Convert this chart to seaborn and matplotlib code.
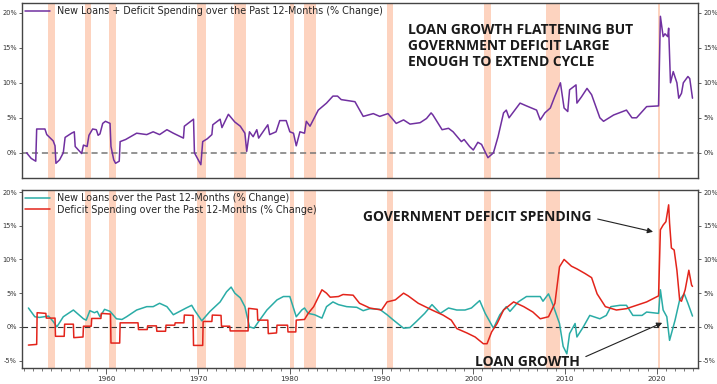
import matplotlib
matplotlib.use("Agg")
from matplotlib import pyplot as plt
from matplotlib.ticker import MultipleLocator, FuncFormatter
import seaborn as sns
import pandas as pd

# recession bands (start, end)
recessions = [(1953.6, 1954.4), (1957.7, 1958.3), (1960.3, 1961.1), (1969.9, 1970.9),
              (1973.9, 1975.2), (1980.0, 1980.5), (1981.5, 1982.9), (1990.6, 1991.2),
              (2001.2, 2001.9), (2007.9, 2009.5), (2020.1, 2020.4)]

# top panel: new loans + deficit spending
total_years = [1951.3, 1951.8, 1952.3, 1952.4, 1953.3, 1953.5, 1954.2, 1954.4, 1954.5, 1954.9,
               1955.3, 1955.5, 1956.2, 1956.5, 1956.6, 1957.3, 1957.5, 1957.9, 1958.1, 1958.5,
               1958.9, 1959.1, 1959.3, 1959.6, 1959.9, 1960.4, 1960.5, 1960.8, 1961.0, 1961.4,
               1961.5, 1962.1, 1963.3, 1964.4, 1965.1, 1965.8, 1966.6, 1967.3, 1968.4, 1968.5,
               1969.0, 1969.5, 1969.6, 1970.3, 1970.5, 1971.0, 1971.5, 1971.6, 1972.4, 1972.6,
               1973.3, 1974.0, 1974.6, 1975.1, 1975.3, 1975.6, 1976.0, 1976.4, 1976.6, 1977.6,
               1977.8, 1978.5, 1978.9, 1979.6, 1980.0, 1980.4, 1980.7, 1981.1, 1981.6, 1981.8,
               1982.2, 1983.1, 1984.0, 1984.7, 1985.2, 1985.6, 1987.1, 1988.0, 1989.1, 1989.8,
               1990.7, 1991.6, 1992.4, 1993.1, 1994.2, 1994.9, 1995.4, 1995.6, 1996.6, 1997.3,
               1997.8, 1998.7, 1999.0, 1999.6, 2000.0, 2000.5, 2000.9, 2001.6, 2002.2, 2002.7,
               2003.3, 2003.6, 2003.9, 2004.7, 2005.1, 2005.8, 2006.9, 2007.3, 2007.8, 2008.4,
               2008.9, 2009.5, 2009.9, 2010.3, 2010.5, 2011.2, 2011.3, 2011.8, 2012.4, 2012.9,
               2013.8, 2014.2, 2015.3, 2016.7, 2017.3, 2017.8, 2018.9, 2020.2, 2020.4, 2020.7,
               2020.9, 2021.2, 2021.3, 2021.5, 2021.8, 2022.2, 2022.4, 2022.7, 2022.9, 2023.4,
               2023.6, 2023.9]
total_values = [0.0, -0.8, -1.2, 3.4, 3.4, 2.6, 1.7, 1.0, -1.5, -1.0,
                0.0, 2.2, 2.8, 3.0, 0.9, -0.1, 1.1, 0.9, 2.5, 3.4,
                3.3, 2.5, 2.7, 4.2, 4.5, 4.2, 0.9, -1.0, -1.5, -1.2,
                1.6, 1.9, 2.8, 2.6, 3.0, 2.6, 3.3, 2.8, 2.1, 3.8,
                4.3, 4.8, 0.0, -1.7, 1.6, 2.0, 2.6, 4.0, 4.8, 3.6,
                5.5, 4.4, 3.8, 2.8, 0.2, 3.0, 2.3, 3.3, 2.1, 4.0,
                2.6, 3.0, 4.6, 4.6, 3.0, 2.8, 1.0, 3.0, 2.8, 4.5,
                3.8, 6.1, 7.1, 8.1, 8.1, 7.6, 7.3, 5.2, 5.6, 5.2,
                5.6, 4.2, 4.7, 4.1, 4.3, 4.9, 5.7, 5.4, 3.3, 3.5,
                3.0, 1.6, 1.9, 0.9, 0.4, 1.5, 1.2, -0.7, 0.0, 2.3,
                5.7, 6.1, 5.0, 6.4, 7.1, 6.7, 6.1, 4.7, 5.7, 6.4,
                8.1, 10.0, 6.4, 5.9, 9.0, 9.7, 7.1, 8.0, 9.2, 8.3,
                5.0, 4.5, 5.4, 6.1, 5.0, 5.0, 6.6, 6.7, 19.5, 16.6,
                17.0, 16.6, 17.8, 10.0, 11.6, 10.0, 7.8, 8.5, 10.0, 10.9,
                10.6, 7.8]

# bottom panel: new loans
loan_years = [1951.5, 1952.2, 1952.7, 1953.7, 1954.2, 1954.6, 1955.3, 1956.4, 1957.5, 1957.8,
              1958.2, 1958.7, 1959.0, 1959.3, 1959.8, 1960.4, 1961.1, 1961.7, 1962.2, 1963.3,
              1964.4, 1965.1, 1965.8, 1966.6, 1967.3, 1968.0, 1968.7, 1969.3, 1969.6, 1970.4,
              1971.3, 1972.4, 1973.1, 1973.6, 1974.0, 1974.6, 1975.1, 1975.6, 1976.1, 1976.6,
              1977.5, 1978.6, 1979.3, 1980.0, 1980.7, 1981.3, 1981.6, 1982.0, 1982.7, 1983.5,
              1984.0, 1984.7, 1985.3, 1986.2, 1987.3, 1988.0, 1988.7, 1989.8, 1990.6, 1991.3,
              1992.4, 1993.1, 1993.8, 1994.7, 1995.5, 1996.4, 1997.3, 1998.2, 1999.1, 1999.8,
              2000.7, 2001.3, 2002.2, 2002.9, 2003.6, 2004.0, 2004.9, 2005.8, 2006.9, 2007.3,
              2007.6, 2008.2, 2008.7, 2009.4, 2009.8, 2010.2, 2010.5, 2011.1, 2011.3, 2012.0,
              2012.7, 2013.8, 2014.5, 2015.0, 2016.0, 2016.7, 2017.4, 2018.4, 2018.9, 2020.2,
              2020.4, 2020.7, 2021.1, 2021.4, 2022.0, 2022.5, 2023.0, 2023.4, 2023.9]
loan_values = [2.8, 1.5, 1.4, 1.6, 0.8, 0.0, 1.5, 2.5, 1.2, 1.0,
               2.4, 2.1, 2.3, 1.5, 2.6, 2.3, 1.2, 1.1, 1.5, 2.5,
               3.0, 3.0, 3.5, 3.0, 1.8, 2.3, 2.8, 3.2, 2.5, 0.9,
               2.3, 3.7, 5.2, 5.9, 5.0, 4.3, 3.0, 0.0, -0.2, 0.8,
               2.5, 4.0, 4.5, 4.5, 1.5, 2.5, 2.8, 2.0, 1.8, 1.3,
               3.0, 3.7, 3.3, 3.0, 2.9, 2.4, 2.7, 2.6, 1.8, 1.0,
               -0.2, -0.1, 0.8, 2.0, 3.3, 2.0, 2.8, 2.5, 2.5, 2.8,
               3.9, 2.0, -0.2, 1.8, 3.0, 2.3, 3.7, 4.5, 4.5, 4.5,
               3.8, 4.9, 3.2, 0.5, -2.9, -4.0, -1.0, 0.5, -1.5, 0.0,
               1.7, 1.2, 1.7, 3.0, 3.2, 3.2, 1.7, 1.7, 2.2, 2.0,
               5.5, 2.5, 1.5, -2.0, 1.0, 4.0, 4.9, 3.5, 1.6]

# bottom panel: deficit spending
deficit_years = [1951.5, 1952.4, 1952.45, 1953.4, 1953.45, 1954.4, 1954.45, 1955.4, 1955.45, 1956.4,
                 1956.45, 1957.45, 1957.5, 1958.35, 1958.4, 1959.4, 1959.45, 1960.45, 1960.5, 1961.45,
                 1961.5, 1963.45, 1963.5, 1964.45, 1964.5, 1965.45, 1965.5, 1966.45, 1966.5, 1967.45,
                 1967.5, 1968.45, 1968.5, 1969.45, 1969.5, 1970.5, 1970.55, 1971.5, 1971.55, 1972.5,
                 1972.55, 1973.45, 1973.5, 1975.45, 1975.5, 1976.45, 1976.5, 1977.6, 1977.65, 1978.55,
                 1978.6, 1979.75, 1979.8, 1980.65, 1980.7, 1981.6, 1982.0, 1982.6, 1983.5, 1984.0,
                 1984.4, 1985.3, 1985.8, 1986.9, 1987.6, 1988.4, 1988.7, 1990.0, 1990.6, 1991.5,
                 1992.4, 1992.9, 1994.0, 1995.5, 1996.7, 1997.6, 1998.2, 1999.3, 2000.2, 2001.1,
                 2001.5, 2002.0, 2002.6, 2003.3, 2004.4, 2005.5, 2006.5, 2007.3, 2008.2, 2008.9,
                 2009.4, 2009.9, 2010.7, 2011.3, 2012.2, 2012.9, 2013.5, 2014.4, 2015.6, 2016.7,
                 2017.8, 2018.9, 2020.2, 2020.4, 2020.7, 2021.0, 2021.3, 2021.4, 2021.6, 2021.9,
                 2022.2, 2022.5, 2022.7, 2023.1, 2023.5, 2023.8, 2023.9]
deficit_values = [-2.7, -2.6, 2.1, 2.0, 1.3, 1.3, -1.4, -1.4, 0.4, 0.4,
                  -1.6, -1.5, 0.1, 0.1, 1.25, 1.25, 2.0, 1.9, -2.4, -2.4,
                  0.6, 0.6, -0.4, -0.4, 0.15, 0.15, -0.65, -0.65, 0.25, 0.25,
                  0.6, 0.6, 1.75, 1.7, -2.75, -2.75, 0.8, 0.8, 1.75, 1.7,
                  0.1, 0.1, -0.6, -0.6, 2.75, 2.6, 1.0, 1.0, -1.0, -0.9,
                  0.25, 0.25, -0.75, -0.75, 1.0, 1.1, 2.0, 3.0, 5.5, 5.0,
                  4.4, 4.5, 4.8, 4.7, 3.5, 3.0, 2.8, 2.5, 3.7, 4.0,
                  5.0, 4.6, 3.5, 2.5, 1.75, 1.0, -0.25, -0.9, -1.5, -2.5,
                  -2.5, -0.75, 0.5, 2.5, 3.7, 3.0, 2.2, 1.2, 1.5, 3.5,
                  8.9, 10.0, 9.0, 8.6, 7.9, 7.3, 4.9, 3.0, 2.5, 2.7,
                  3.2, 3.7, 4.6, 14.4, 15.1, 15.6, 18.1, 15.4, 11.7, 11.4,
                  8.4, 4.0, 3.8, 5.5, 8.4, 6.2, 6.0]

total = pd.DataFrame({"year": total_years, "value": total_values})
loans = pd.DataFrame({"year": loan_years, "value": loan_values})
deficit = pd.DataFrame({"year": deficit_years, "value": deficit_values})

sns.set_style("ticks")
plt.rcParams["font.family"] = ["DejaVu Sans"]

PURPLE = "#7030a0"
TEAL = "#2aaca6"
RED = "#e3241b"
SHADE = "#fdd3bf"
SPINE = "#444444"

fig = plt.figure(figsize=(7.17, 3.84), dpi=100)
ax1 = fig.add_axes([22 / 717, 1 - 178 / 384, 676 / 717, 175 / 384])
ax2 = fig.add_axes([22 / 717, 1 - 368 / 384, 676 / 717, 178 / 384])

pct = FuncFormatter(lambda v, p: f"{v:.0f}%")

for ax in (ax1, ax2):
    for a, b in recessions:
        ax.axvspan(a, b, color=SHADE, lw=0, zorder=0)
    ax.set_xlim(1950.8, 2024.5)
    ax.yaxis.set_major_formatter(pct)
    ax.yaxis.set_major_locator(MultipleLocator(5))
    ax.tick_params(axis="y", left=True, right=True, labelleft=True, labelright=True,
                   labelsize=4.8, labelcolor="#333333", length=2.5, width=0.6,
                   color=SPINE, pad=1.2)
    for s in ax.spines.values():
        s.set_color(SPINE)
        s.set_linewidth(1.0)

# top panel
sns.lineplot(data=total, x="year", y="value", ax=ax1, color=PURPLE, lw=1.1,
             estimator=None, sort=False,
             label="New Loans + Deficit Spending over the Past 12-Months (% Change)")
ax1.axhline(0, color="#777777", ls="--", lw=1.1, dashes=(4, 2.5), zorder=1)
ax1.set_ylim(-3.6, 21.4)
ax1.tick_params(axis="x", bottom=False, labelbottom=False)
ax1.set_xlabel("")
ax1.set_ylabel("")
ax1.legend(loc="upper left", frameon=False, fontsize=6.9, handlelength=2.6,
           borderaxespad=0.1, borderpad=0.2)
ax1.text(1992.9, 18.5, "LOAN GROWTH FLATTENING BUT\nGOVERNMENT DEFICIT LARGE\nENOUGH TO EXTEND CYCLE",
         family="Open Sans", weight="bold", fontsize=10, color="#1a1a1a", va="top",
         ha="left", linespacing=1.15)

# bottom panel
sns.lineplot(data=loans, x="year", y="value", ax=ax2, color=TEAL, lw=1.1,
             estimator=None, sort=False,
             label="New Loans over the Past 12-Months (% Change)")
sns.lineplot(data=deficit, x="year", y="value", ax=ax2, color=RED, lw=1.1,
             estimator=None, sort=False,
             label="Deficit Spending over the Past 12-Months (% Change)")
ax2.axhline(0, color="#333333", ls="--", lw=0.8, dashes=(5, 3), zorder=1)
ax2.set_ylim(-6.1, 20.3)
ax2.set_xlabel("")
ax2.set_ylabel("")
ax2.xaxis.set_major_locator(MultipleLocator(10))
ax2.xaxis.set_minor_locator(MultipleLocator(1))
ax2.tick_params(axis="x", which="major", labelsize=5.2, labelcolor="#333333",
                length=4, width=0.6, color=SPINE, pad=1.5)
ax2.tick_params(axis="x", which="minor", length=2.5, width=0.5, color=SPINE)
ax2.legend(loc="upper left", frameon=False, fontsize=6.9, handlelength=2.6,
           borderaxespad=0.1, borderpad=0.2, labelspacing=0.2)

arrow = dict(arrowstyle="-|>", color="#222222", lw=0.8, mutation_scale=8)
ax2.annotate("GOVERNMENT DEFICIT SPENDING", xy=(2019.6, 14.1), xytext=(1988.0, 16.3),
             family="Open Sans", weight="bold", fontsize=10, color="#1a1a1a",
             va="center", ha="left",
             arrowprops=dict(arrow, relpos=(1.0, 0.45), shrinkA=2, shrinkB=0))
ax2.annotate("LOAN GROWTH", xy=(2020.6, 0.6), xytext=(2000.2, -5.2),
             family="Open Sans", weight="bold", fontsize=10, color="#1a1a1a",
             va="center", ha="left",
             arrowprops=dict(arrow, relpos=(1.0, 0.7), shrinkA=2, shrinkB=0))

fig.savefig("out.png", dpi=100)
